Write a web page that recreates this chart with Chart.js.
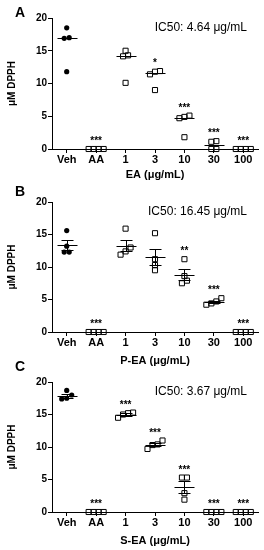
<!DOCTYPE html>
<html>
<head>
<meta charset="utf-8">
<script src="https://cdn.jsdelivr.net/npm/chart.js@4.4.1/dist/chart.umd.min.js"></script>
<style>
    body { margin: 0; background: #fff; width: 264px; height: 550px; position: relative; overflow: hidden; }
    canvas { position: absolute; left: 0; }
</style>
</head>
<body>
<canvas id="chartA" width="264" height="182" style="top:0px"></canvas>
<canvas id="chartB" width="264" height="184" style="top:184px"></canvas>
<canvas id="chartC" width="264" height="190" style="top:358px"></canvas>
<script>
const categories = ['Veh', 'AA', '1', '3', '10', '30', '100'];

// Valores individuais (µM DPPH), 4 replicatas por grupo
const valuesA = [
    [17.0, 18.5, 16.9, 11.8],
    [0, 0, 0, 0],
    [14.3, 14.15, 15.0, 10.1],
    [11.8, 11.4, 11.9, 9.0],
    [4.9, 4.7, 5.1, 1.8],
    [1.2, 1.1, 0, 0],
    [0, 0, 0, 0]
];
const valuesB = [
    [15.6, 13.2, 12.3, 12.3],
    [0, 0, 0, 0],
    [15.9, 13.0, 11.9, 12.4],
    [15.2, 11.2, 10.3, 9.5],
    [11.2, 8.6, 7.5, 7.9],
    [5.2, 4.7, 4.2, 4.4],
    [0, 0, 0, 0]
];
const valuesC = [
    [18.7, 18.0, 17.4, 17.5],
    [0, 0, 0, 0],
    [15.2, 15.0, 15.3, 14.5],
    [11.0, 10.4, 10.3, 9.7],
    [5.3, 5.3, 2.9, 1.9],
    [0, 0, 0, 0],
    [0, 0, 0, 0]
];

// Significância
const starsA = ['', '***', '', '*', '***', '***', '***'];
const starsB = ['', '***', '', '', '**', '***', '***'];
const starsC = ['', '***', '***', '***', '***', '***', '***'];

const yTicks = [0, 5, 10, 15, 20];
const xTitles = ['EA (μg/mL)', 'P-EA (μg/mL)', 'S-EA (μg/mL)'];
const ic50Labels = ['IC50: 4.64 μg/mL', 'IC50: 16.45 μg/mL', 'IC50: 3.67 μg/mL'];
const panelLetters = ['A', 'B', 'C'];

const FONT = 'Arial, "Liberation Sans", sans-serif';

function median(vals) {
    const s = [...vals].sort((a, b) => a - b);
    const m = Math.floor(s.length / 2);
    return s.length % 2 ? s[m] : (s[m - 1] + s[m]) / 2;
}

function mean(vals) {
    return vals.reduce((a, b) => a + b, 0) / vals.length;
}

function sem(vals) {
    const m = mean(vals);
    const sd = Math.sqrt(vals.reduce((a, v) => a + (v - m) * (v - m), 0) / (vals.length - 1));
    return sd / Math.sqrt(vals.length);
}

// Espalha pontos próximos lado a lado (estilo scatter dot plot)
function spreadGroup(vals, index) {
    const order = vals.map((v, k) => k).sort((a, b) => vals[a] - vals[b]);
    const pts = new Array(vals.length);
    let cluster = [];
    const flush = () => {
        cluster.forEach((k, j) => {
            pts[k] = { x: index + (j - (cluster.length - 1) / 2) * 0.17, y: vals[k] };
        });
        cluster = [];
    };
    order.forEach(k => {
        if (cluster.length && vals[k] - vals[cluster[cluster.length - 1]] > 0.65) flush();
        cluster.push(k);
    });
    flush();
    return pts;
}

const overlayPlugin = {
    id: 'overlay',
    afterDatasetsDraw(chart, args, opts) {
        const { ctx, chartArea } = chart;
        const x = chart.scales.x;
        const y = chart.scales.y;
        ctx.save();
        ctx.strokeStyle = '#000';
        ctx.lineWidth = 1;

        opts.values.forEach((vals, i) => {
            const cx = Math.round(x.getPixelForValue(i)) + 0.5;
            const center = opts.kind === 'median' ? median(vals) : mean(vals);
            const cy = Math.round(y.getPixelForValue(center)) + 0.5;
            ctx.beginPath();
            ctx.moveTo(cx - 10, cy);
            ctx.lineTo(cx + 10, cy);
            if (opts.kind === 'sem') {
                const e = sem(vals);
                if (e > 0) {
                    const top = Math.round(y.getPixelForValue(center + e)) + 0.5;
                    const bot = Math.round(y.getPixelForValue(center - e)) + 0.5;
                    ctx.moveTo(cx, top);
                    ctx.lineTo(cx, bot);
                    ctx.moveTo(cx - 6, top);
                    ctx.lineTo(cx + 6, top);
                    ctx.moveTo(cx - 6, bot);
                    ctx.lineTo(cx + 6, bot);
                }
            }
            ctx.stroke();

            // asteriscos
            if (opts.stars[i]) {
                const sy = y.getPixelForValue(Math.max(...vals)) - 5;
                ctx.fillStyle = '#000';
                ctx.font = 'bold 10px ' + FONT;
                ctx.textAlign = 'center';
                ctx.textBaseline = 'alphabetic';
                ctx.fillText(opts.stars[i], x.getPixelForValue(i), sy);
            }
        });

        // IC50
        ctx.fillStyle = '#000';
        ctx.font = '12px ' + FONT;
        ctx.textAlign = 'right';
        ctx.textBaseline = 'middle';
        ctx.fillText(opts.ic50, chartArea.right - 11, chartArea.top + 10);

        // letra do painel
        ctx.font = 'bold 14px ' + FONT;
        ctx.textAlign = 'left';
        ctx.fillText(opts.letter, 15, opts.letterY);
        ctx.restore();
    }
};

function buildPanel(canvasId, values, stars, idx, kind, padTop, xHeight, letterY) {
    const vehPoints = spreadGroup(values[0], 0);
    const otherPoints = [];
    values.slice(1).forEach((vals, k) => otherPoints.push(...spreadGroup(vals, k + 1)));

    new Chart(document.getElementById(canvasId), {
        type: 'scatter',
        data: {
            datasets: [
                {
                    data: vehPoints,
                    pointStyle: 'circle',
                    pointRadius: 2.6,
                    backgroundColor: '#000',
                    borderColor: '#000',
                    borderWidth: 0,
                    clip: false
                },
                {
                    data: otherPoints,
                    pointStyle: 'rect',
                    pointRadius: 3.6,
                    backgroundColor: 'rgba(0,0,0,0)',
                    borderColor: '#000',
                    borderWidth: 1,
                    clip: false
                }
            ]
        },
        options: {
            responsive: false,
            animation: false,
            devicePixelRatio: 1,
            layout: { padding: { left: 6, right: 6, top: padTop, bottom: 0 } },
            plugins: {
                legend: { display: false },
                tooltip: { enabled: false },
                overlay: {
                    values: values,
                    stars: stars,
                    kind: kind,
                    ic50: ic50Labels[idx],
                    letter: panelLetters[idx],
                    letterY: letterY
                }
            },
            scales: {
                x: {
                    type: 'linear',
                    min: -0.5,
                    max: 6.5,
                    afterBuildTicks: s => { s.ticks = categories.map((c, i) => ({ value: i })); },
                    afterFit: s => { s.height = xHeight; },
                    ticks: {
                        callback: v => categories[v],
                        autoSkip: false,
                        maxRotation: 0,
                        padding: 0,
                        color: '#000',
                        font: { family: FONT, size: 11, weight: 'bold' }
                    },
                    grid: { drawOnChartArea: false, tickLength: 4, color: '#000' },
                    border: { color: '#000', width: 1 },
                    title: {
                        display: true,
                        text: xTitles[idx],
                        color: '#000',
                        padding: { top: 0, bottom: 0 },
                        font: { family: FONT, size: 11, weight: 'bold' }
                    }
                },
                y: {
                    min: 0,
                    max: 20,
                    afterBuildTicks: s => { s.ticks = yTicks.map(v => ({ value: v })); },
                    afterFit: s => { s.width = 46; },
                    ticks: {
                        padding: 1,
                        color: '#000',
                        font: { family: FONT, size: 10, weight: 'bold' }
                    },
                    grid: { drawOnChartArea: false, tickLength: 4, color: '#000' },
                    border: { color: '#000', width: 1 },
                    title: {
                        display: true,
                        text: 'μM DPPH',
                        color: '#000',
                        padding: { top: 0, bottom: 0 },
                        font: { family: FONT, size: 10, weight: 'bold' }
                    }
                }
            }
        },
        plugins: [overlayPlugin]
    });
}

buildPanel('chartA', valuesA, starsA, 0, 'median', 18, 33, 13);
buildPanel('chartB', valuesB, starsB, 1, 'sem', 18, 36, 8);
buildPanel('chartC', valuesC, starsC, 2, 'sem', 24, 36, 9);
</script>
</body>
</html>
